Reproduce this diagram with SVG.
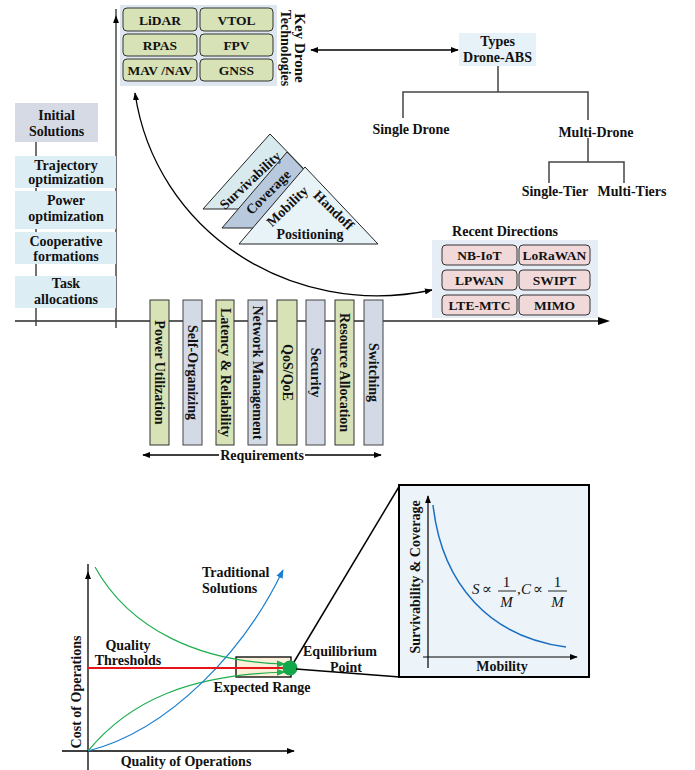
<svg xmlns="http://www.w3.org/2000/svg" width="695" height="770" viewBox="0 0 695 770">
<defs>
<style>
.t{font-family:"Liberation Serif","Times New Roman",serif;font-weight:bold;font-size:14px;fill:#111}
.c{text-anchor:middle}
.s{font-size:13.5px}
.gb{fill:#d7e2b6;stroke:#333;stroke-width:1}
.bb{fill:#d3dae6;stroke:#444;stroke-width:1}
.pk{fill:#f2d9d9;stroke:#333;stroke-width:1}
.lb{fill:#dcedf4}
.ln{fill:none;stroke:#444;stroke-width:1.5}
.ax{fill:none;stroke:#5e5e5e;stroke-width:2}
.k{fill:none;stroke:#000;stroke-width:1.3}
.m{font-family:"Liberation Serif","DejaVu Serif",serif;font-style:italic;font-size:15px;fill:#111}
</style>
<marker id="aK" viewBox="0 0 10 10" refX="9" refY="5" markerWidth="8" markerHeight="8" markerUnits="userSpaceOnUse" orient="auto-start-reverse"><path d="M0,1.2 L10,5 L0,8.8 z" fill="#000"/></marker>
<marker id="aG" viewBox="0 0 10 10" refX="9" refY="5" markerWidth="9" markerHeight="9" markerUnits="userSpaceOnUse" orient="auto"><path d="M0,1.2 L10,5 L0,8.8 z" fill="#1fae4f"/></marker>
<marker id="aB" viewBox="0 0 10 10" refX="9" refY="5" markerWidth="9" markerHeight="9" markerUnits="userSpaceOnUse" orient="auto"><path d="M0,1.2 L10,5 L0,8.8 z" fill="#1a7fd0"/></marker>
</defs>
<rect width="695" height="770" fill="#fff"/>

<g id="connectors">
<line class="ax" x1="15" y1="321" x2="604" y2="321"/>
<path d="M598,317 L610,321 L598,325 z" fill="#000"/>
<line x1="116" y1="328" x2="116" y2="16" stroke="#444" stroke-width="1.5" marker-end="url(#aK)"/>
<line x1="116" y1="16" x2="116" y2="9" stroke="#444" stroke-width="1.5"/>
<line class="ln" x1="36" y1="142" x2="36" y2="326"/>
<line class="k" x1="311" y1="50" x2="458" y2="50" marker-start="url(#aK)" marker-end="url(#aK)"/>
<path class="ln" d="M498,66 V92 M403,118 V92 H588 V120 M588,138 V162 M549,183 V162 H624 V183"/>
<path class="k" d="M135,93 C155,230 290,320 432,290" marker-start="url(#aK)" marker-end="url(#aK)"/>
<line class="k" x1="143" y1="455" x2="219" y2="455" marker-start="url(#aK)"/>
<line class="k" x1="305" y1="455" x2="381" y2="455" marker-end="url(#aK)"/>
</g>

<g id="initial-solutions">
<rect x="15" y="103" width="83" height="39" fill="#d5dae4"/>
<text class="t c" x="56.5" y="120">Initial</text>
<text class="t c" x="56.5" y="136">Solutions</text>
</g>
<g id="trajectory">
<rect class="lb" x="15" y="156" width="101" height="32"/>
<text class="t c" x="66" y="170">Trajectory</text>
<text class="t c" x="66" y="184">optimization</text>
</g>
<g id="power">
<rect class="lb" x="15" y="191" width="101" height="38"/>
<text class="t c" x="66" y="205">Power</text>
<text class="t c" x="66" y="221">optimization</text>
</g>
<g id="cooperative">
<rect class="lb" x="15" y="232" width="101" height="32"/>
<text class="t c" x="66" y="246">Cooperative</text>
<text class="t c" x="66" y="261">formations</text>
</g>
<g id="task">
<rect class="lb" x="15" y="276" width="101" height="32"/>
<text class="t c" x="66" y="288">Task</text>
<text class="t c" x="66" y="304">allocations</text>
</g>

<g id="key-drone-technologies">
<rect x="120" y="5" width="157" height="81" fill="#dee7f0"/>
<rect class="gb" x="123" y="8" width="74" height="23" rx="4"/>
<rect class="gb" x="200" y="8" width="73" height="23" rx="4"/>
<rect class="gb" x="123" y="34" width="74" height="22" rx="4"/>
<rect class="gb" x="200" y="34" width="73" height="22" rx="4"/>
<rect class="gb" x="123" y="59" width="74" height="22" rx="4"/>
<rect class="gb" x="200" y="59" width="73" height="22" rx="4"/>
<text class="t c s" x="160" y="24.5">LiDAR</text>
<text class="t c s" x="236.5" y="24.5">VTOL</text>
<text class="t c s" x="160" y="50">RPAS</text>
<text class="t c s" x="236.5" y="50">FPV</text>
<text class="t c s" x="160" y="75">MAV /NAV</text>
<text class="t c s" x="236.5" y="75">GNSS</text>
<text class="t c" transform="translate(295,48) rotate(90)" style="font-size:15px">Key Drone</text>
<text class="t c" transform="translate(281,48) rotate(90)">Technologies</text>
</g>

<g id="types">
<rect x="459" y="33" width="77" height="33" fill="#e7f1f8"/>
<text class="t c" x="497.5" y="46">Types</text>
<text class="t c" x="497.5" y="62">Drone-ABS</text>
</g>
<g id="single-drone"><text class="t c" x="411" y="134">Single Drone</text></g>
<g id="multi-drone"><text class="t c" x="596" y="137">Multi-Drone</text></g>
<g id="single-tier"><text class="t c" x="555" y="196">Single-Tier</text></g>
<g id="multi-tiers"><text class="t c" x="632" y="196">Multi-Tiers</text></g>

<g id="triangles">
<polygon points="270,134 203,209 343,209" fill="#d9eaef" stroke="#222" stroke-width="1"/>
<polygon points="287,152 222,228 360,228" fill="#b8c9dd" stroke="#222" stroke-width="1"/>
<polygon points="305,167 239,244 378,244" fill="#e8f3f8" stroke="#222" stroke-width="1"/>
<text class="t c" transform="translate(250,180) rotate(-43)" y="5">Survivability</text>
<text class="t c" transform="translate(268,192) rotate(-45)" y="5">Coverage</text>
<text class="t c" transform="translate(287,206) rotate(-44)" y="5">Mobility</text>
<text class="t c" transform="translate(334,210) rotate(44)" y="5">Handoff</text>
<text class="t c" x="310" y="239">Positioning</text>
</g>

<g id="recent-directions">
<text class="t c" x="505" y="236">Recent Directions</text>
<rect x="432" y="240" width="166" height="78" fill="#e7edf5"/>
<rect class="pk" x="442" y="245" width="75" height="20" rx="4"/>
<rect class="pk" x="519" y="245" width="71" height="20" rx="4"/>
<rect class="pk" x="442" y="270" width="75" height="20" rx="4"/>
<rect class="pk" x="519" y="270" width="71" height="20" rx="4"/>
<rect class="pk" x="442" y="295" width="75" height="20" rx="4"/>
<rect class="pk" x="519" y="295" width="71" height="20" rx="4"/>
<text class="t c s" x="479.5" y="260">NB-IoT</text>
<text class="t c s" x="554.5" y="260">LoRaWAN</text>
<text class="t c s" x="479.5" y="285">LPWAN</text>
<text class="t c s" x="554.5" y="285">SWIPT</text>
<text class="t c s" x="479.5" y="310">LTE-MTC</text>
<text class="t c s" x="554.5" y="310">MIMO</text>
</g>

<g id="requirements">
<rect class="gb" x="150" y="300" width="19" height="145"/>
<rect class="bb" x="183" y="300" width="19" height="145"/>
<rect class="gb" x="216" y="300" width="18" height="145"/>
<rect class="bb" x="248" y="300" width="19" height="145"/>
<rect class="gb" x="277" y="300" width="20" height="145"/>
<rect class="bb" x="306" y="300" width="19" height="145"/>
<rect class="gb" x="335" y="300" width="19" height="145"/>
<rect class="bb" x="364" y="300" width="19" height="145"/>
<text class="t c" transform="translate(155,372.5) rotate(90)">Power Utilization</text>
<text class="t c" transform="translate(188,372.5) rotate(90)">Self-Organizing</text>
<text class="t c" transform="translate(220.5,372.5) rotate(90)">Latency  &amp; Reliability</text>
<text class="t c" transform="translate(253,372.5) rotate(90)">Network Management</text>
<text class="t c" transform="translate(282.5,372.5) rotate(90)">QoS/QoE</text>
<text class="t c" transform="translate(311,372.5) rotate(90)">Security</text>
<text class="t c" transform="translate(340,372.5) rotate(90)">Resource Allocation</text>
<text class="t c" transform="translate(369,372.5) rotate(90)">Switching</text>
<text class="t c" x="262" y="460">Requirements</text>
</g>

<g id="cost-quality-chart">
<line x1="88" y1="770" x2="88" y2="572" stroke="#000" stroke-width="1.3" marker-end="url(#aK)"/>
<line x1="88" y1="572" x2="88" y2="564" stroke="#000" stroke-width="1.3"/>
<line x1="62" y1="751" x2="294" y2="751" stroke="#000" stroke-width="1.3" marker-end="url(#aK)"/>
<rect x="236" y="657" width="55" height="20" fill="#fbf0d9" stroke="#000" stroke-width="1.3"/>
<path d="M95,567 C130,630 200,662 285,664" fill="none" stroke="#1fae4f" stroke-width="1.2" marker-end="url(#aG)"/>
<path d="M88,751 C130,700 190,675 285,672" fill="none" stroke="#1fae4f" stroke-width="1.2" marker-end="url(#aG)"/>
<path d="M88,751 C170,730 245,650 283,570" fill="none" stroke="#1a7fd0" stroke-width="1.2" marker-end="url(#aB)"/>
<line x1="88" y1="668" x2="286" y2="668" stroke="#e8141b" stroke-width="1.8"/>
<circle cx="290" cy="668" r="7.5" fill="#12a84a"/>
<line x1="294" y1="662" x2="400" y2="485" stroke="#000" stroke-width="1.5"/>
<line x1="296" y1="669" x2="400" y2="677" stroke="#000" stroke-width="1.5"/>
<text class="t c" transform="translate(81,692) rotate(-90)">Cost of Operations</text>
<text class="t c" x="186" y="766">Quality of Operations</text>
<text class="t" x="202" y="577">Traditional</text>
<text class="t" x="202" y="593">Solutions</text>
<text class="t c" x="128" y="650">Quality</text>
<text class="t c" x="128" y="665">Thresholds</text>
<text class="t c" x="262" y="692">Expected Range</text>
<text class="t c" x="340" y="656">Equilibrium</text>
<text class="t c" x="346" y="672">Point</text>
</g>

<g id="mobility-inset">
<rect x="399" y="485" width="190" height="192" fill="#ecf4f9" stroke="#000" stroke-width="2"/>
<line x1="428" y1="668" x2="428" y2="496" stroke="#000" stroke-width="1.2" marker-end="url(#aK)"/>
<line x1="423" y1="657" x2="577" y2="657" stroke="#000" stroke-width="1.2" marker-end="url(#aK)"/>
<path d="M433,505 C442,585 490,637 566,647" fill="none" stroke="#1a6fc0" stroke-width="1.5"/>
<text class="t c" transform="translate(420,577) rotate(-90)">Survivability  &amp; Coverage</text>
<text class="t c" x="502" y="671">Mobility</text>
<text class="m" x="472" y="594">S</text>
<text class="m" x="482" y="594" style="font-style:normal">∝</text>
<text class="m" x="506.5" y="587" text-anchor="middle" style="font-style:normal">1</text>
<line x1="498" y1="591" x2="516" y2="591" stroke="#111" stroke-width="0.9"/>
<text class="m" x="506.5" y="607" text-anchor="middle">M</text>
<text class="m" x="517" y="594" style="font-style:normal">,</text>
<text class="m" x="521" y="594">C</text>
<text class="m" x="533" y="594" style="font-style:normal">∝</text>
<text class="m" x="557.5" y="587" text-anchor="middle" style="font-style:normal">1</text>
<line x1="548" y1="591" x2="567" y2="591" stroke="#111" stroke-width="0.9"/>
<text class="m" x="557.5" y="607" text-anchor="middle">M</text>
</g>
</svg>
